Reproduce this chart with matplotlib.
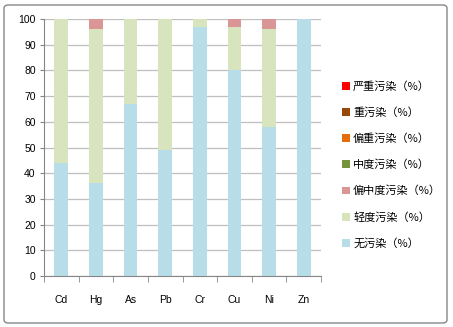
import matplotlib
matplotlib.use("Agg")
import matplotlib.pyplot as plt
import numpy as np
from matplotlib.patches import FancyBboxPatch

metals = ["Cd", "Hg", "As", "Pb", "Cr", "Cu", "Ni", "Zn"]

# percentages per pollution level, bottom to top
none_pct = [44, 36, 67, 49, 97, 80, 58, 100]
light_pct = [56, 60, 33, 51, 3, 17, 38, 0]
mid_light_pct = [0, 4, 0, 0, 0, 3, 4, 0]
moderate_pct = [0, 0, 0, 0, 0, 0, 0, 0]
heavy_light_pct = [0, 0, 0, 0, 0, 0, 0, 0]
heavy_pct = [0, 0, 0, 0, 0, 0, 0, 0]
severe_pct = [0, 0, 0, 0, 0, 0, 0, 0]

series = [
    ("无污染（%）", none_pct, "#B7DEE8"),
    ("轻度污染（%）", light_pct, "#D7E4BD"),
    ("偏中度污染（%）", mid_light_pct, "#D99694"),
    ("中度污染（%）", moderate_pct, "#77933C"),
    ("偏重污染（%）", heavy_light_pct, "#E46C0A"),
    ("重污染（%）", heavy_pct, "#984807"),
    ("严重污染（%）", severe_pct, "#FF0000"),
]

plt.rcParams["font.family"] = ["Liberation Sans", "DejaVu Sans"]

fig = plt.figure(figsize=(4.53, 3.27), dpi=100)
ax = fig.add_axes([44 / 453, 1 - 276 / 327, 277 / 453, 257 / 327])

x = np.arange(len(metals))
bottom = np.zeros(len(metals))
for label, vals, color in series:
    ax.bar(x, vals, 0.4, bottom=bottom, color=color, label=label, zorder=2)
    bottom += np.array(vals)

ax.set_xlim(-0.5, len(metals) - 0.5)
ax.set_ylim(0, 100)
ax.set_yticks(range(0, 101, 10))
ax.set_xticks(x)
ax.set_xticklabels(metals)
ax.set_xticks(np.arange(-0.5, len(metals), 1), minor=True)
ax.tick_params(axis="x", which="major", length=0, pad=14, labelsize=7.5)
ax.tick_params(axis="x", which="minor", length=4, color="#868686")
ax.tick_params(axis="y", length=3, color="#868686", labelsize=7.5, pad=3)
ax.grid(axis="y", color="#BFBFBF", linewidth=0.9, zorder=0)
for s in ["top", "right"]:
    ax.spines[s].set_visible(False)
for s in ["left", "bottom"]:
    ax.spines[s].set_color("#868686")
    ax.spines[s].set_linewidth(0.8)

handles, labels = ax.get_legend_handles_labels()
leg = fig.legend(handles[::-1], labels[::-1], loc="upper left",
                 bbox_to_anchor=(332 / 453, 1 - 71 / 327), frameon=False,
                 prop={"family": ["Noto Sans CJK SC", "DejaVu Sans"], "size": 8},
                 handlelength=0.7, handleheight=0.7, handletextpad=0.3,
                 labelspacing=1.4)

border = FancyBboxPatch((4 / 453, 4 / 327), 443 / 453, 318 / 327,
                        boxstyle="round,pad=0,rounding_size=0.01",
                        transform=fig.transFigure, fill=False,
                        edgecolor="#878787", linewidth=1)
fig.patches.append(border)

fig.savefig("out.png", dpi=100)
